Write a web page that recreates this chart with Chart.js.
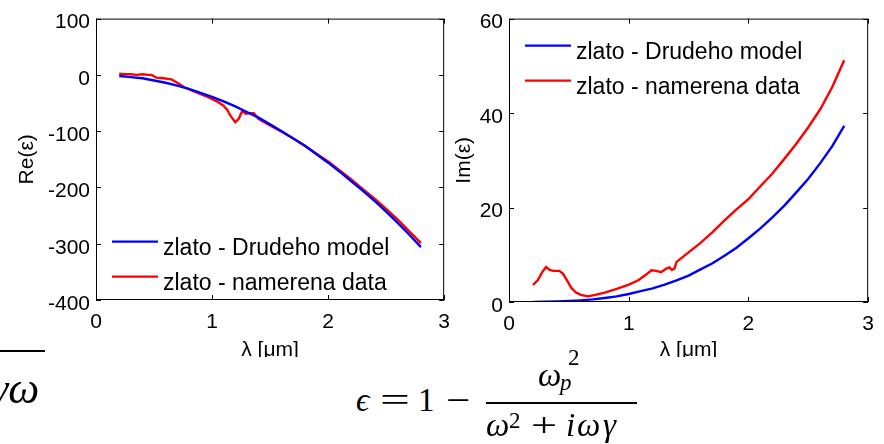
<!DOCTYPE html>
<html>
<head>
<meta charset="utf-8">
<script src="https://cdn.jsdelivr.net/npm/chart.js@4.4.1/dist/chart.umd.min.js"></script>
<style>
  html, body { margin: 0; padding: 0; background: #fff; }
  body { width: 884px; height: 444px; position: relative; overflow: hidden; }
  #plots { position: absolute; left: 0; top: 0; width: 884px; height: 357px; overflow: hidden; }
  #reChart { position: absolute; left: 0; top: 0; }
  #imChart { position: absolute; left: 440px; top: 0; }
  .math { position: absolute; font-family: "Liberation Serif", "DejaVu Serif", serif; color: #000; line-height: 1; white-space: nowrap; font-size: 33px; }
  .it { font-style: italic; }
  .sm { font-size: 23px; }
  .bar { position: absolute; height: 2px; background: #000; }
</style>
</head>
<body>
<div id="plots">
  <canvas id="reChart" width="460" height="370"></canvas>
  <canvas id="imChart" width="444" height="370"></canvas>
</div>

<!-- Drude formula under the plots -->
<div class="bar" style="left:0;top:350px;width:45px"></div>
<span class="math it" style="left:-9px;top:367px;font-size:44px">γω</span>

<span class="math it" style="left:356px;top:384px">ϵ</span>
<span class="math" style="left:380px;top:384px;transform:scaleX(1.6);transform-origin:left">=</span>
<span class="math" style="left:418px;top:384px">1</span>
<span class="math" style="left:446px;top:384px;transform:scaleX(1.3);transform-origin:left">−</span>
<div class="bar" style="left:486px;top:402px;width:151px"></div>
<span class="math it" style="left:538px;top:359px">ω</span>
<span class="math it sm" style="left:560px;top:371px">p</span>
<span class="math sm" style="left:568px;top:346px">2</span>
<span class="math it" style="left:486px;top:409px">ω</span>
<span class="math sm" style="left:509px;top:409px">2</span>
<span class="math" style="left:531px;top:409px;transform:scaleX(1.4);transform-origin:left">+</span>
<span class="math it" style="left:566px;top:409px">i</span>
<span class="math it" style="left:577px;top:409px">ω</span>
<span class="math it" style="left:603px;top:409px">γ</span>

<script>
// wavelength axis [um]
const xTicks = [0, 1, 2, 3];
const reTicks = [-400, -300, -200, -100, 0, 100];
const imTicks = [0, 20, 40, 60];

// Drude model, sampled every 0.1 um
const lambdaModel = [0.2, 0.3, 0.4, 0.5, 0.6, 0.7, 0.8, 0.9, 1.0, 1.1, 1.2, 1.3, 1.4, 1.5,
  1.6, 1.7, 1.8, 1.9, 2.0, 2.1, 2.2, 2.3, 2.4, 2.5, 2.6, 2.7, 2.8];
const reModel = [-2, -4, -6, -10, -14, -19, -25, -32, -39, -47, -56, -66, -76, -88,
  -100, -113, -126, -141, -156, -172, -189, -206, -224, -243, -263, -284, -306];
const imModel = [0.0, 0.05, 0.1, 0.2, 0.35, 0.55, 0.85, 1.2, 1.7, 2.3, 2.9, 3.7, 4.6, 5.6,
  6.9, 8.2, 9.8, 11.5, 13.5, 15.6, 17.9, 20.4, 23.2, 26.1, 29.4, 33.0, 37.3];

// measured gold data, real part
const lambdaMeasRe = [0.20, 0.25, 0.30, 0.35, 0.40, 0.45, 0.48, 0.52, 0.58, 0.65, 0.70, 0.76,
  0.85, 0.95, 1.05, 1.10, 1.13, 1.16, 1.20, 1.23, 1.26, 1.29, 1.33, 1.36, 1.40, 1.45, 1.50,
  1.60, 1.70, 1.80, 1.90, 2.00, 2.10, 2.20, 2.30, 2.40, 2.50, 2.60, 2.70, 2.80];
const reMeasured = [2, 1, 1, 0, 1, 0, 0, -5, -6, -8, -14, -22,
  -30, -38, -48, -55, -62, -73, -84, -78, -64, -69, -68, -68, -78, -84, -90,
  -101, -113, -126, -140, -154, -170, -186, -203, -220, -238, -257, -278, -299];

// measured gold data, imaginary part
const lambdaMeasIm = [0.20, 0.24, 0.28, 0.31, 0.34, 0.37, 0.42, 0.45, 0.48, 0.52, 0.56, 0.60,
  0.66, 0.72, 0.80, 0.90, 1.00, 1.08, 1.14, 1.19, 1.23, 1.27, 1.31, 1.34, 1.36, 1.38, 1.40,
  1.45, 1.50, 1.60, 1.70, 1.80, 1.90, 2.00, 2.10, 2.20, 2.30, 2.40, 2.50, 2.60, 2.70, 2.80];
const imMeasured = [3.6, 4.6, 6.4, 7.4, 6.8, 6.6, 6.6, 6.0, 4.8, 3.0, 2.0, 1.5,
  1.2, 1.5, 2.0, 2.8, 3.7, 4.6, 5.7, 6.7, 6.6, 6.3, 7.0, 7.3, 6.8, 7.0, 8.5,
  9.5, 10.5, 12.5, 14.8, 17.3, 19.6, 21.8, 24.5, 27.2, 30.3, 33.5, 37.0, 40.8, 45.5, 51.2];

const seriesLabels = ['zlato - Drudeho model', 'zlato - namerena data'];
const FONT = '"Liberation Sans", Arial, Helvetica, sans-serif';

const toPoints = (xs, ys) => xs.map((x, i) => ({ x: x, y: ys[i] }));

// full box with inward tick marks on all four sides
const boxTicks = {
  id: 'boxTicks',
  afterDatasetsDraw(chart) {
    const { ctx, chartArea: a, scales: { x, y } } = chart;
    ctx.save();
    ctx.strokeStyle = '#000';
    ctx.lineWidth = 1;
    ctx.strokeRect(a.left + 0.5, a.top + 0.5, a.right - a.left - 1, a.bottom - a.top - 1);
    ctx.beginPath();
    x.ticks.forEach(t => {
      const px = Math.round(x.getPixelForValue(t.value)) + 0.5;
      ctx.moveTo(px, a.top); ctx.lineTo(px, a.top + 5);
      ctx.moveTo(px, a.bottom); ctx.lineTo(px, a.bottom - 5);
    });
    y.ticks.forEach(t => {
      const py = Math.round(y.getPixelForValue(t.value)) + 0.5;
      ctx.moveTo(a.left, py); ctx.lineTo(a.left + 5, py);
      ctx.moveTo(a.right, py); ctx.lineTo(a.right - 5, py);
    });
    ctx.stroke();
    ctx.restore();
  }
};

// legend drawn inside the axes box, no frame
const boxLegend = {
  id: 'boxLegend',
  afterDraw(chart, args, opts) {
    const { ctx, chartArea: a } = chart;
    ctx.save();
    ctx.font = '23px ' + FONT;
    ctx.textBaseline = 'alphabetic';
    chart.data.datasets.forEach((ds, i) => {
      const y = a.top + opts.top + i * 35;
      ctx.strokeStyle = ds.borderColor;
      ctx.lineWidth = 2.4;
      ctx.beginPath();
      ctx.moveTo(a.left + 16, y);
      ctx.lineTo(a.left + 62, y);
      ctx.stroke();
      ctx.fillStyle = '#000';
      ctx.fillText(ds.label, a.left + 67, y + 13);
    });
    ctx.restore();
  }
};

function makeChart(id, o) {
  const tickFont = { family: FONT, size: 21 };
  return new Chart(document.getElementById(id), {
    type: 'line',
    data: {
      datasets: [
        { label: seriesLabels[0], data: o.model, borderColor: '#0000ff', borderWidth: 2.4, pointRadius: 0, tension: 0 },
        { label: seriesLabels[1], data: o.measured, borderColor: '#ff0000', borderWidth: 2.4, pointRadius: 0, tension: 0 }
      ]
    },
    options: {
      responsive: false,
      animation: false,
      layout: { padding: { top: 15, right: o.padRight, left: 0, bottom: 0 } },
      plugins: {
        legend: { display: false },
        tooltip: { enabled: false },
        boxLegend: { top: o.legendTop }
      },
      scales: {
        x: {
          type: 'linear',
          min: xTicks[0], max: xTicks[xTicks.length - 1],
          afterFit: s => { s.height = o.xHeight; },
          afterBuildTicks: s => { s.ticks = xTicks.map(v => ({ value: v })); },
          ticks: { color: '#000', font: tickFont, padding: 10, maxRotation: 0 },
          grid: { display: false, drawTicks: false },
          border: { display: false },
          title: { display: true, text: 'λ [μm]', color: '#000', font: { family: FONT, size: 21 }, padding: { top: 0, bottom: 7 } }
        },
        y: {
          min: o.yTicks[0], max: o.yTicks[o.yTicks.length - 1],
          afterFit: s => { s.width = o.yWidth; },
          afterBuildTicks: s => { s.ticks = o.yTicks.map(v => ({ value: v })); },
          ticks: { color: '#000', font: tickFont, padding: 6, labelOffset: 4 },
          grid: { display: false, drawTicks: false },
          border: { display: false },
          title: { display: true, text: o.yTitle, color: '#000', font: { family: FONT, size: 21 }, padding: { top: o.yTitlePad, bottom: 0 } }
        }
      }
    },
    plugins: [boxTicks, boxLegend]
  });
}

makeChart('reChart', {
  model: toPoints(lambdaModel, reModel),
  measured: toPoints(lambdaMeasRe, reMeasured),
  yTicks: reTicks, yTitle: 'Re(ε)', yTitlePad: 15,
  yWidth: 96, xHeight: 70, padRight: 13, legendTop: 223
});

makeChart('imChart', {
  model: toPoints(lambdaModel, imModel),
  measured: toPoints(lambdaMeasIm, imMeasured),
  yTicks: imTicks, yTitle: 'Im(ε)', yTitlePad: 12,
  yWidth: 69, xHeight: 68, padRight: 6, legendTop: 27
});
</script>
</body>
</html>
